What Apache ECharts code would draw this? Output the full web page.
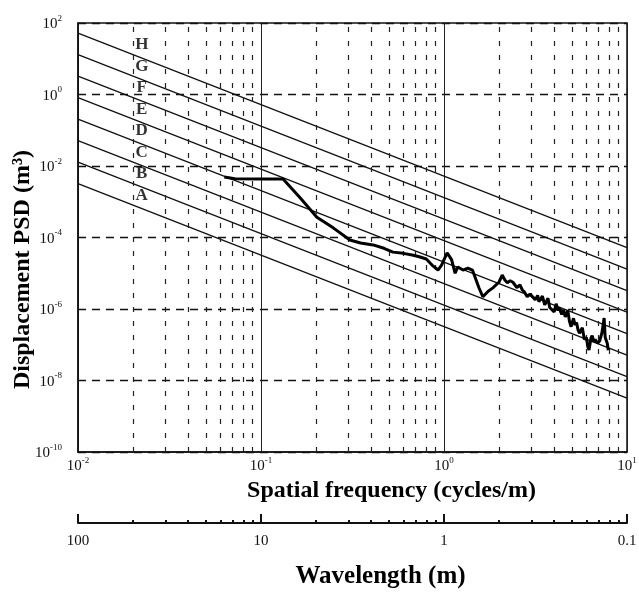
<!DOCTYPE html>
<html>
<head>
<meta charset="utf-8">
<script src="https://cdn.jsdelivr.net/npm/echarts@6/dist/echarts.min.js"></script>
<style>
html,body{margin:0;padding:0;background:#fff;}
#chart{width:639px;height:600px;}
</style>
</head>
<body>
<div id="chart"></div>
<script>
// Measured road profile PSD (spatial frequency in cycles/m, PSD in m^3)
const freq = [0.063, 0.072, 0.10, 0.132, 0.164, 0.202, 0.248, 0.306, 0.35, 0.41, 0.47, 0.526, 0.6, 0.68, 0.74, 0.80, 0.87, 0.927, 0.97, 1.04, 1.10, 1.15, 1.19, 1.27, 1.35, 1.43, 1.55, 1.63, 1.75, 1.85, 2.0, 2.08, 2.15, 2.22, 2.3, 2.38, 2.5, 2.6, 2.68, 2.75, 2.85, 2.95, 3.05, 3.15, 3.25, 3.3, 3.45, 3.55, 3.6, 3.7, 3.78, 3.85, 4.0, 4.1, 4.2, 4.25, 4.4, 4.5, 4.6, 4.75, 4.85, 4.95, 5.1, 5.2, 5.3, 5.4, 5.5, 5.7, 5.85, 6.0, 6.1, 6.2, 6.35, 6.45, 6.6, 6.7, 6.9, 7.1, 7.3, 7.5, 7.6, 7.8, 7.9];
const psd  = [4.9e-3, 4.4e-3, 4.3e-3, 4.3e-3, 1.27e-3, 3.7e-4, 1.86e-4, 8.5e-5, 7.0e-5, 6.2e-5, 5.0e-5, 3.9e-5, 3.6e-5, 3.2e-5, 2.85e-5, 2.5e-5, 1.6e-5, 1.23e-5, 1.7e-5, 3.7e-5, 2.4e-5, 1.0e-5, 1.5e-5, 1.23e-5, 1.4e-5, 1.23e-5, 4.0e-6, 2.2e-6, 3.2e-6, 3.9e-6, 5.7e-6, 8.9e-6, 6.5e-6, 5.4e-6, 6.2e-6, 5.6e-6, 4.0e-6, 4.7e-6, 3.4e-6, 3.0e-6, 2.2e-6, 2.6e-6, 2.2e-6, 1.8e-6, 2.4e-6, 1.6e-6, 2.3e-6, 1.3e-6, 1.5e-6, 2.0e-6, 1.1e-6, 1.2e-6, 8.3e-7, 1.4e-6, 9.0e-7, 1.1e-6, 7.0e-7, 9.5e-7, 6.0e-7, 9.0e-7, 4.5e-7, 3.2e-7, 5.5e-7, 3.6e-7, 4.2e-7, 2.6e-7, 2.1e-7, 3.0e-7, 1.4e-7, 1.6e-7, 9.0e-8, 7.1e-8, 1.5e-7, 1.8e-7, 1.2e-7, 1.4e-7, 1.1e-7, 1.3e-7, 2.2e-7, 5.6e-7, 1.6e-7, 1.1e-7, 7.0e-8];

// ISO road classes A..H: class lines given by their end values
const classNames = ['A', 'B', 'C', 'D', 'E', 'F', 'G', 'H'];
const classEdgeFreq = [0.01, 10];
const classStart = [3.2e-3, 1.28e-2, 5.12e-2, 0.2048, 0.8192, 3.277, 13.11, 52.43];
const classEnd   = [3.2e-9, 1.28e-8, 5.12e-8, 2.048e-7, 8.192e-7, 3.277e-6, 1.311e-5, 5.243e-5];
const letterFreq = 0.0223;
const letterPsd  = [1.5e-3, 6.0e-3, 0.024, 0.096, 0.384, 1.536, 6.144, 24.58];

// Minor (dashed) vertical grid positions
const minorFreq = [0.02, 0.03, 0.04, 0.05, 0.06, 0.07, 0.08, 0.09, 0.2, 0.3, 0.4, 0.5, 0.6, 0.7, 0.8, 0.9, 2, 3, 4, 5, 6, 7, 8, 9];

// Tick labels
const xTickExp = [-2, -1, 0, 1];
const yTickExp = [-10, -8, -6, -4, -2, 0, 2];
const wavelengthLabels = ['100', '10', '1', '0.1'];

const FONT = 'Liberation Serif';
const INK = '#111';

function expOf(v) { return Math.round(Math.log10(v)); }
function powLabel(exps) {
  return function (v) {
    const e = expOf(v);
    if (exps.indexOf(e) < 0) return '';
    return '{b|10}{s|' + e + '}';
  };
}
const richPow = {
  b: { fontFamily: FONT, fontSize: 15, color: INK, lineHeight: 18, verticalAlign: 'bottom' },
  s: { fontFamily: FONT, fontSize: 9, color: INK, lineHeight: 10, verticalAlign: 'top' }
};

const series = [];
// helper series carrying the minor dashed vertical grid lines
series.push({
  type: 'line', data: [], silent: true, z: 1,
  markLine: {
    silent: true, symbol: ['none', 'none'], animation: false,
    label: { show: false },
    lineStyle: { color: '#222', width: 1.2, type: [5, 9] },
    data: minorFreq.map(v => ({ xAxis: v }))
  }
});
classNames.forEach((c, i) => {
  series.push({
    name: 'Class ' + c, type: 'line', symbol: 'none', silent: true, z: 2,
    lineStyle: { color: INK, width: 1.3 },
    data: [[classEdgeFreq[0], classStart[i]], [classEdgeFreq[1], classEnd[i]]]
  });
});
series.push({
  type: 'scatter', symbolSize: 0, z: 4, silent: true,
  label: {
    show: true, position: 'inside', formatter: p => p.name,
    fontFamily: FONT, fontWeight: 'bold', fontSize: 17, color: '#000'
  },
  data: classNames.map((c, i) => ({ name: c, value: [letterFreq, letterPsd[i]] }))
});
series.push({
  name: 'Measured', type: 'line', symbol: 'none', z: 5,
  lineStyle: { color: '#000', width: 3 },
  data: freq.map((f, i) => [f, psd[i]])
});

const chart = echarts.init(document.getElementById('chart'), null, { renderer: 'canvas' });
chart.setOption({
  backgroundColor: '#fff',
  animation: false,
  grid: { left: 78, right: 12, top: 23, bottom: 148, containLabel: false, outerBoundsMode: 'none', show: true, borderColor: INK, borderWidth: 1.5, backgroundColor: 'transparent' },
  xAxis: [
    {
      type: 'log', logBase: 10, min: 0.01, max: 10, interval: 1,
      name: 'Spatial frequency (cycles/m)', nameLocation: 'middle', nameGap: 24,
      nameTextStyle: { fontFamily: FONT, fontWeight: 'bold', fontSize: 24, color: '#000', padding: [0, 0, 0, 78] },
      axisLine: { show: true, lineStyle: { color: INK, width: 1.5 } },
      axisTick: { show: false },
      axisLabel: { formatter: powLabel(xTickExp), rich: richPow, margin: 4 },
      splitLine: { show: true, lineStyle: { color: '#222', width: 1, type: 'solid' } }
    },
    {
      type: 'log', logBase: 10, min: 0.01, max: 10, interval: 1, position: 'bottom', offset: 71,
      name: 'Wavelength (m)', nameLocation: 'middle', nameGap: 41,
      nameTextStyle: { fontFamily: FONT, fontWeight: 'bold', fontSize: 25, color: '#000', padding: [0, 0, 0, 56] },
      axisLine: { show: true, lineStyle: { color: INK, width: 2 } },
      axisTick: { show: true, inside: true, length: 9, lineStyle: { color: INK, width: 2 } },
      axisLabel: {
        fontFamily: FONT, fontSize: 15, color: INK, margin: 11,
        formatter: v => wavelengthLabels[expOf(v) + 2] || ''
      },
      splitLine: { show: false }
    },
    {
      type: 'log', logBase: 10, min: 0.01, max: 10, position: 'bottom', offset: 71,
      axisLine: { show: false },
      axisTick: { show: true, inside: true, length: 3, customValues: minorFreq, lineStyle: { color: INK, width: 2 } },
      axisLabel: { show: false },
      splitLine: { show: false }
    }
  ],
  yAxis: {
    type: 'log', logBase: 10, min: 1e-10, max: 1e2, interval: 2,
    name: 'Displacement PSD (m\u00B3)', nameLocation: 'middle', nameGap: 43, nameRotate: 90, nameMoveOverlap: false,
    nameTextStyle: { fontFamily: FONT, fontWeight: 'bold', fontSize: 24, color: '#000', padding: [0, 64, 0, 0] },
    axisLine: { show: true, lineStyle: { color: INK, width: 1.5 } },
    axisTick: { show: false },
    axisLabel: { formatter: powLabel(yTickExp), rich: richPow, margin: 16 },
    splitLine: { show: true, lineStyle: { color: INK, width: 1.4, type: [8, 6] } }
  },
  series: series
});
</script>
</body>
</html>
